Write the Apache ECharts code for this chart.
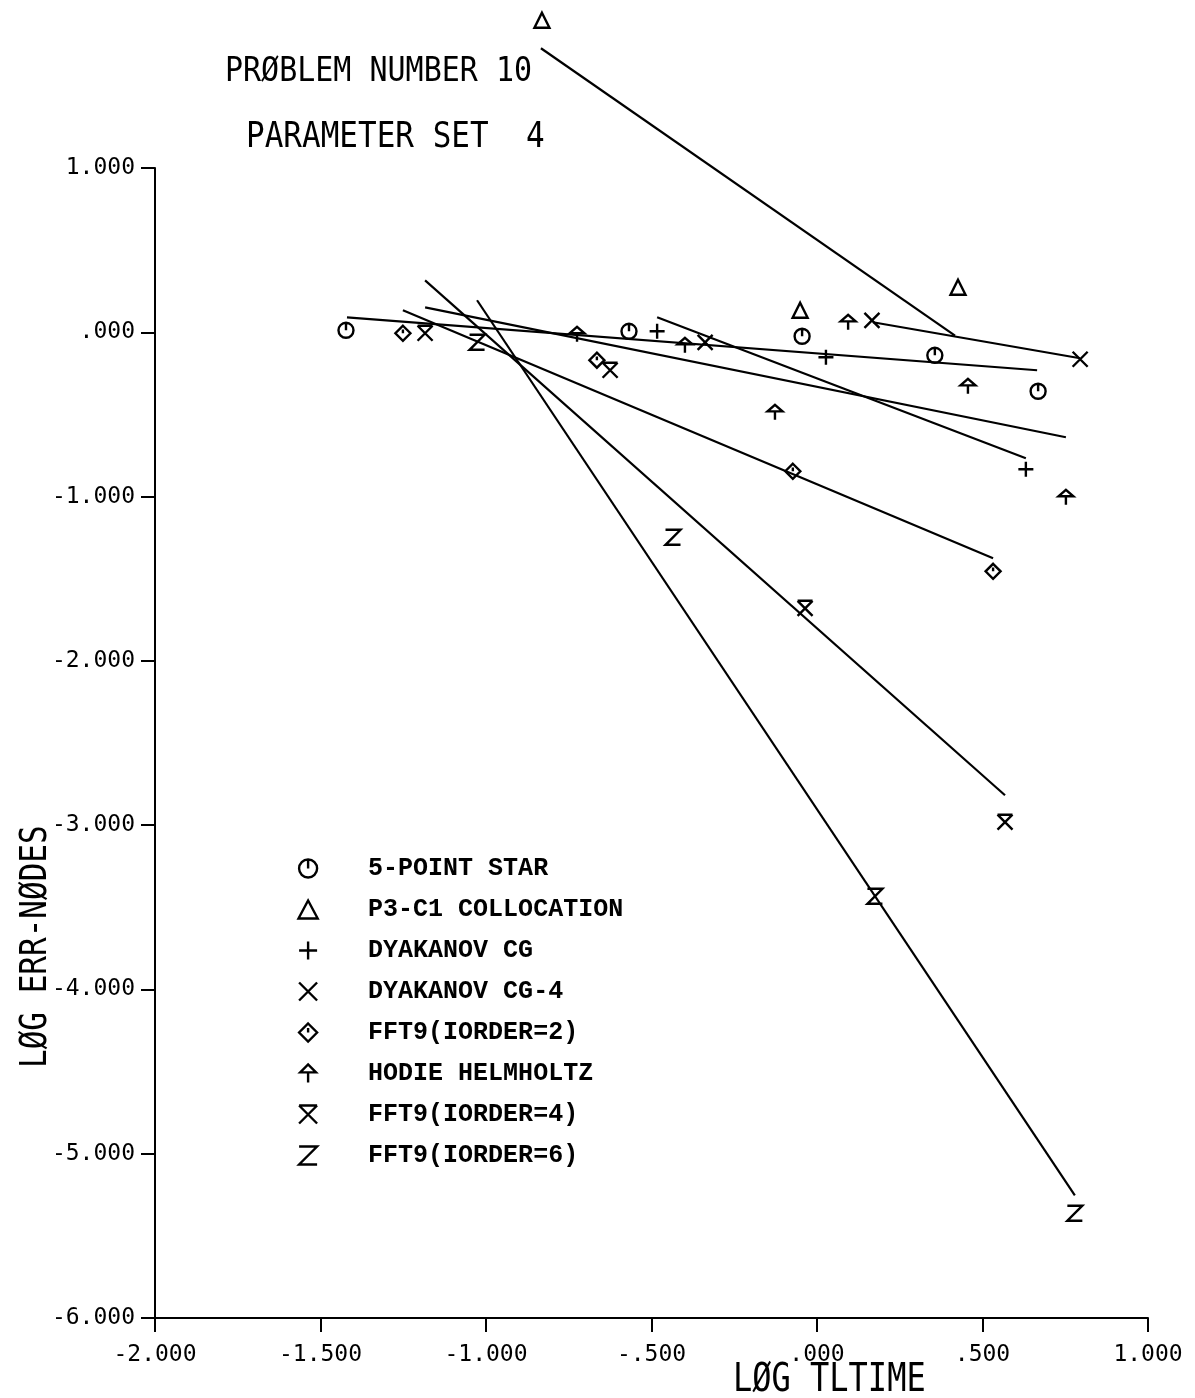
<!DOCTYPE html>
<html>
<head>
<meta charset="utf-8">
<script src="https://cdn.jsdelivr.net/npm/echarts@6/dist/echarts.min.js"></script>
<style>
  html, body { margin: 0; padding: 0; background: #fff; }
  #chart { width: 1195px; height: 1398px; }
</style>
</head>
<body>
<div id="chart"></div>
<script>
// tick labels as printed on the plot
const xTicks = [-2, -1.5, -1, -0.5, 0, 0.5, 1];
const xTickLabels = ["-2.000", "-1.500", "-1.000", "-.500", ".000", ".500", "1.000"];
const yTicks = [-6, -5, -4, -3, -2, -1, 0, 1];
const yTickLabels = ["-6.000", "-5.000", "-4.000", "-3.000", "-2.000", "-1.000", ".000", "1.000"];

// method names (legend order)
const methods = [
  "5-POINT STAR",
  "P3-C1 COLLOCATION",
  "DYAKANOV CG",
  "DYAKANOV CG-4",
  "FFT9(IORDER=2)",
  "HODIE HELMHOLTZ",
  "FFT9(IORDER=4)",
  "FFT9(IORDER=6)"
];

// measured points: log time / log error
const starX = [-1.423, -0.568, -0.045, 0.356, 0.668];
const starY = [0.012, 0.006, -0.024, -0.14, -0.359];
const collocX = [-0.831, -0.051, 0.426];
const collocY = [1.899, 0.134, 0.274];
const cgX = [-0.483, 0.027, 0.631];
const cgY = [0.006, -0.152, -0.834];
const cg4X = [-0.338, 0.166, 0.795];
const cg4Y = [-0.061, 0.073, -0.164];
const fft2X = [-1.251, -0.665, -0.073, 0.532];
const fft2Y = [-0.006, -0.17, -0.846, -1.455];
const hodieX = [-0.725, -0.399, -0.127, 0.094, 0.456, 0.752];
const hodieY = [-0.012, -0.079, -0.487, 0.061, -0.329, -1.004];
const fft4X = [-1.184, -0.625, -0.036, 0.568];
const fft4Y = [-0.006, -0.231, -1.68, -2.982];
const fft6X = [-1.027, -0.435, 0.175, 0.779];
const fft6Y = [-0.061, -1.248, -3.433, -5.362];

// fitted lines: [start, end]
const starFitX = [-1.42, 0.665];
const starFitY = [0.091, -0.231];
const collocFitX = [-0.834, 0.417];
const collocFitY = [1.729, -0.02];
const cgFitX = [-0.483, 0.631];
const cgFitY = [0.091, -0.767];
const cg4FitX = [0.169, 0.795];
const cg4FitY = [0.061, -0.158];
const fft2FitX = [-1.251, 0.532];
const fft2FitY = [0.134, -1.376];
const hodieFitX = [-1.184, 0.752];
const hodieFitY = [0.152, -0.639];
const fft4FitX = [-1.184, 0.568];
const fft4FitY = [0.316, -2.818];
const fft6FitX = [-1.027, 0.779];
const fft6FitY = [0.195, -5.253];

// plotter symbols
const symbols = [
  "path://M10,2 A8,8 0 1,1 9.99,2 Z M10,2 L10,10",
  "path://M10,2 L18,17 L2,17 Z",
  "path://M10,1 L10,19 M1,10 L19,10",
  "path://M2,2 L18,18 M18,2 L2,18",
  "path://M10,2 L18,10 L10,18 L2,10 Z M10,6 L10,10",
  "path://M3,10 L10,3 L17,10 Z M10,10 L10,19",
  "path://M2,2 L18,2 M2,2 L18,18 M18,2 L2,18",
  "path://M3,3 L17,3 L3,17 L17,17"
];

const pointSets = [
  [starX, starY], [collocX, collocY], [cgX, cgY], [cg4X, cg4Y],
  [fft2X, fft2Y], [hodieX, hodieY], [fft4X, fft4Y], [fft6X, fft6Y]
];
const fitSets = [
  [starFitX, starFitY], [collocFitX, collocFitY], [cgFitX, cgFitY], [cg4FitX, cg4FitY],
  [fft2FitX, fft2FitY], [hodieFitX, hodieFitY], [fft4FitX, fft4FitY], [fft6FitX, fft6FitY]
];

const zip = (xs, ys) => xs.map((x, i) => [x, ys[i]]);

const markStyle = { color: "none", borderColor: "#000", borderWidth: 2.4, opacity: 1 };

const series = [];
methods.forEach((name, i) => {
  series.push({
    name: "fit " + i,
    type: "line",
    data: zip(fitSets[i][0], fitSets[i][1]),
    symbol: "none",
    clip: false,
    silent: true,
    lineStyle: { color: "#000", width: 2.2 }
  });
});
methods.forEach((name, i) => {
  series.push({
    name: name,
    type: "scatter",
    data: zip(pointSets[i][0], pointSets[i][1]),
    symbol: symbols[i],
    symbolSize: 15,
    clip: false,
    itemStyle: markStyle
  });
});

const plotFont = "DejaVu Sans Mono";

const chart = echarts.init(document.getElementById("chart"));
chart.setOption({
  animation: false,
  backgroundColor: "#fff",
  grid: { left: 155, right: 47, top: 168, bottom: 80 },
  xAxis: {
    type: "value",
    min: -2,
    max: 1,
    interval: 0.5,
    splitLine: { show: false },
    axisLine: { onZero: false, lineStyle: { color: "#000", width: 2 } },
    axisTick: { length: 14, lineStyle: { color: "#000", width: 2 } },
    axisLabel: {
      margin: 26,
      color: "#000",
      fontFamily: plotFont,
      fontSize: 23,
      formatter: v => xTickLabels[xTicks.indexOf(v)] ?? ""
    }
  },
  yAxis: {
    type: "value",
    min: -6,
    max: 1,
    interval: 1,
    splitLine: { show: false },
    axisLine: { onZero: false, lineStyle: { color: "#000", width: 2 } },
    axisTick: { length: 14, lineStyle: { color: "#000", width: 2 } },
    axisLabel: {
      margin: 20,
      color: "#000",
      fontFamily: plotFont,
      fontSize: 23,
      formatter: v => yTickLabels[yTicks.indexOf(v)] ?? ""
    }
  },
  legend: {
    data: methods,
    orient: "vertical",
    left: 291,
    top: 851,
    itemWidth: 110,
    itemHeight: 18,
    itemGap: 16,
    selectedMode: false,
    itemStyle: { color: "none", borderColor: "#000", borderWidth: 2.4 },
    textStyle: {
      color: "#000",
      fontFamily: "Liberation Mono",
      fontWeight: "bold",
      fontSize: 25,
      lineHeight: 25
    }
  },
  graphic: [
    {
      type: "text",
      left: 225,
      top: 55,
      scaleY: 1.12,
      style: { text: "PRØBLEM NUMBER 10", fill: "#000", font: "30px " + plotFont }
    },
    {
      type: "text",
      left: 246,
      top: 121,
      scaleY: 1.12,
      style: { text: "PARAMETER SET  4", fill: "#000", font: "31px " + plotFont }
    },
    {
      type: "text",
      left: 733,
      top: 1362,
      scaleY: 1.2,
      style: { text: "LØG TLTIME", fill: "#000", font: "32px " + plotFont }
    },
    {
      type: "text",
      x: 18,
      y: 1068,
      rotation: Math.PI / 2,
      scaleY: 1.2,
      style: { text: "LØG ERR-NØDES", fill: "#000", font: "31px " + plotFont, textVerticalAlign: "top" }
    }
  ],
  series: series
});
</script>
</body>
</html>
